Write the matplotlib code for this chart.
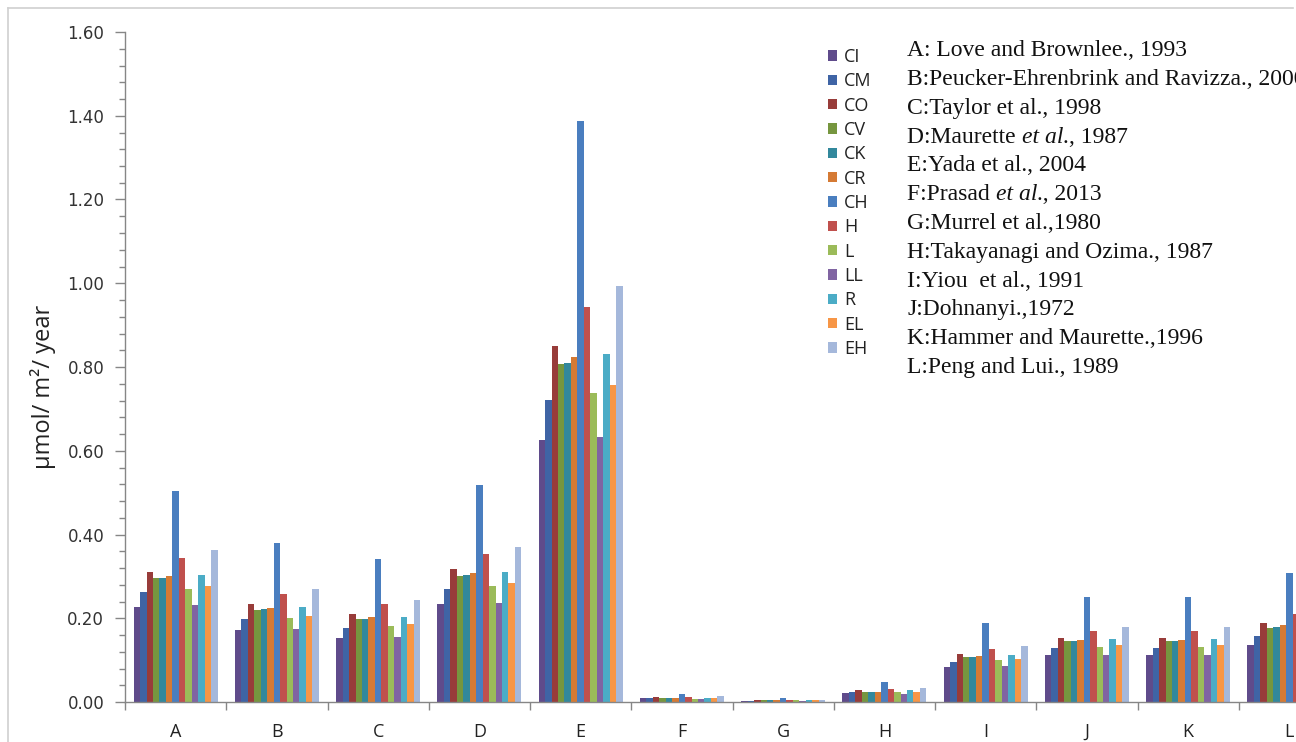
import matplotlib
matplotlib.use("Agg")
import matplotlib.pyplot as plt
from matplotlib.lines import Line2D
import numpy as np

# studies (x categories) and meteorite classes (series)
groups = ["A", "B", "C", "D", "E", "F", "G", "H", "I", "J", "K", "L"]
series = ["CI", "CM", "CO", "CV", "CK", "CR", "CH", "H", "L", "LL", "R", "EL", "EH"]
colors = ["#5F4B8B", "#3F64A5", "#983C3A", "#76963F", "#32889C", "#D57A34",
          "#4A7EBF", "#C0504D", "#9BBB59", "#8064A2", "#4BACC6", "#F79646", "#A5B8DB"]

# rows = series, columns = groups A..L
CI = [0.228, 0.172, 0.154, 0.234, 0.625, 0.009, 0.003, 0.021, 0.084, 0.113, 0.113, 0.137]
CM = [0.263, 0.199, 0.177, 0.269, 0.721, 0.009, 0.003, 0.024, 0.096, 0.128, 0.128, 0.158]
CO = [0.311, 0.234, 0.210, 0.317, 0.850, 0.011, 0.005, 0.029, 0.115, 0.153, 0.153, 0.188]
CV = [0.295, 0.220, 0.199, 0.301, 0.807, 0.010, 0.005, 0.025, 0.107, 0.145, 0.145, 0.177]
CK = [0.295, 0.223, 0.199, 0.303, 0.809, 0.010, 0.005, 0.025, 0.107, 0.145, 0.145, 0.180]
CR = [0.301, 0.225, 0.204, 0.309, 0.823, 0.010, 0.005, 0.025, 0.110, 0.148, 0.148, 0.183]
CH = [0.505, 0.379, 0.341, 0.518, 1.388, 0.019, 0.010, 0.048, 0.188, 0.250, 0.250, 0.309]
H = [0.343, 0.258, 0.234, 0.353, 0.944, 0.011, 0.004, 0.031, 0.127, 0.169, 0.169, 0.210]
L = [0.269, 0.201, 0.182, 0.277, 0.738, 0.008, 0.004, 0.023, 0.100, 0.131, 0.131, 0.165]
LL = [0.231, 0.175, 0.156, 0.236, 0.634, 0.007, 0.003, 0.020, 0.085, 0.113, 0.113, 0.137]
R = [0.303, 0.228, 0.204, 0.311, 0.830, 0.010, 0.004, 0.029, 0.113, 0.150, 0.150, 0.188]
EL = [0.277, 0.206, 0.186, 0.283, 0.756, 0.009, 0.004, 0.025, 0.103, 0.135, 0.135, 0.170]
EH = [0.362, 0.271, 0.244, 0.371, 0.994, 0.014, 0.004, 0.034, 0.134, 0.180, 0.180, 0.225]
values = [CI, CM, CO, CV, CK, CR, CH, H, L, LL, R, EL, EH]

# reference list; middle item of each tuple is set in italics
references = [
    ("A: Love and Brownlee., 1993", "", ""),
    ("B:Peucker-Ehrenbrink and Ravizza., 2000", "", ""),
    ("C:Taylor et al., 1998", "", ""),
    ("D:Maurette ", "et al.", ", 1987"),
    ("E:Yada et al., 2004", "", ""),
    ("F:Prasad ", "et al", "., 2013"),
    ("G:Murrel et al.,1980", "", ""),
    ("H:Takayanagi and Ozima., 1987", "", ""),
    ("I:Yiou  et al., 1991", "", ""),
    ("J:Dohnanyi.,1972", "", ""),
    ("K:Hammer and Maurette.,1996", "", ""),
    ("L:Peng and Lui., 1989", "", ""),
]

W, Hpx = 1296, 742
fig = plt.figure(figsize=(W / 100, Hpx / 100), dpi=100)
ax = fig.add_axes([125 / W, 40 / Hpx, 1215 / W, 670 / Hpx])

x = np.arange(len(groups))
bw = 0.0638
handles = []
for j, (name, vals) in enumerate(zip(series, values)):
    b = ax.bar(x + (j - 6) * bw, vals, width=bw, color=colors[j], label=name,
               linewidth=0, zorder=2)
    handles.append(b)

ax.set_xlim(-0.5, len(groups) - 0.5)
ax.set_ylim(0, 1.6)

grey = "#868686"
for s in ["top", "right"]:
    ax.spines[s].set_visible(False)
for s in ["left", "bottom"]:
    ax.spines[s].set_color(grey)
    ax.spines[s].set_linewidth(1.0)

ax.set_yticks(np.arange(0, 1.61, 0.2))
ax.set_yticks(np.arange(0, 1.61, 0.04), minor=True)
ax.set_yticklabels([f"{v:.2f}" for v in np.arange(0, 1.61, 0.2)],
                   fontsize=12, family="DejaVu Sans", color="#333333")
ax.tick_params(axis="y", which="major", direction="out", length=7, width=1,
               color=grey, pad=8)
ax.tick_params(axis="y", which="minor", direction="out", length=4, width=1,
               color=grey)

ax.set_xticks(np.arange(-0.5, len(groups), 1.0))
ax.set_xticklabels([])
ax.set_xticks(x, minor=True)
ax.set_xticklabels(groups, minor=True, fontsize=13, family="Open Sans",
                   color="#222222")
ax.tick_params(axis="x", which="major", direction="out", length=6, width=1,
               color=grey)
ax.tick_params(axis="x", which="minor", length=0, pad=15)

ax.set_ylabel("µmol/ m²/ year", fontsize=17, family="Open Sans", color="#222222")
ax.yaxis.set_label_coords(-69 / 1215, (702 - 387) / 670)

leg = ax.legend(handles=handles, loc="upper left",
                bbox_to_anchor=(828 / W, 1 - 48 / Hpx),
                bbox_transform=fig.transFigure, frameon=False,
                prop={"family": "Open Sans", "size": 13},
                handlelength=0.5, handleheight=0.5, handletextpad=0.4,
                labelspacing=0.35, borderpad=0, borderaxespad=0)
for t in leg.get_texts():
    t.set_color("#222222")

# reference list, pieces laid out one after another
renderer = fig.canvas.get_renderer()
for i, parts in enumerate(references):
    xp = 907 / W
    yp = 1 - (50.7 + i * 28.8) / Hpx
    for k, piece in enumerate(parts):
        if not piece:
            continue
        t = fig.text(xp, yp, piece, family="Liberation Serif", fontsize=17,
                     style="italic" if k == 1 else "normal",
                     va="center", ha="left", color="#111111")
        bb = t.get_window_extent(renderer)
        xp += bb.width / W

# outer chart border (left and top visible)
fig.add_artist(Line2D([8 / W, 8 / W], [0, 1 - 8 / Hpx], transform=fig.transFigure,
                      color="#d0d0d0", linewidth=1.2))
fig.add_artist(Line2D([8 / W, 1293 / W], [1 - 8 / Hpx, 1 - 8 / Hpx],
                      transform=fig.transFigure, color="#d0d0d0", linewidth=1.2))

fig.savefig("out.png", dpi=100)
